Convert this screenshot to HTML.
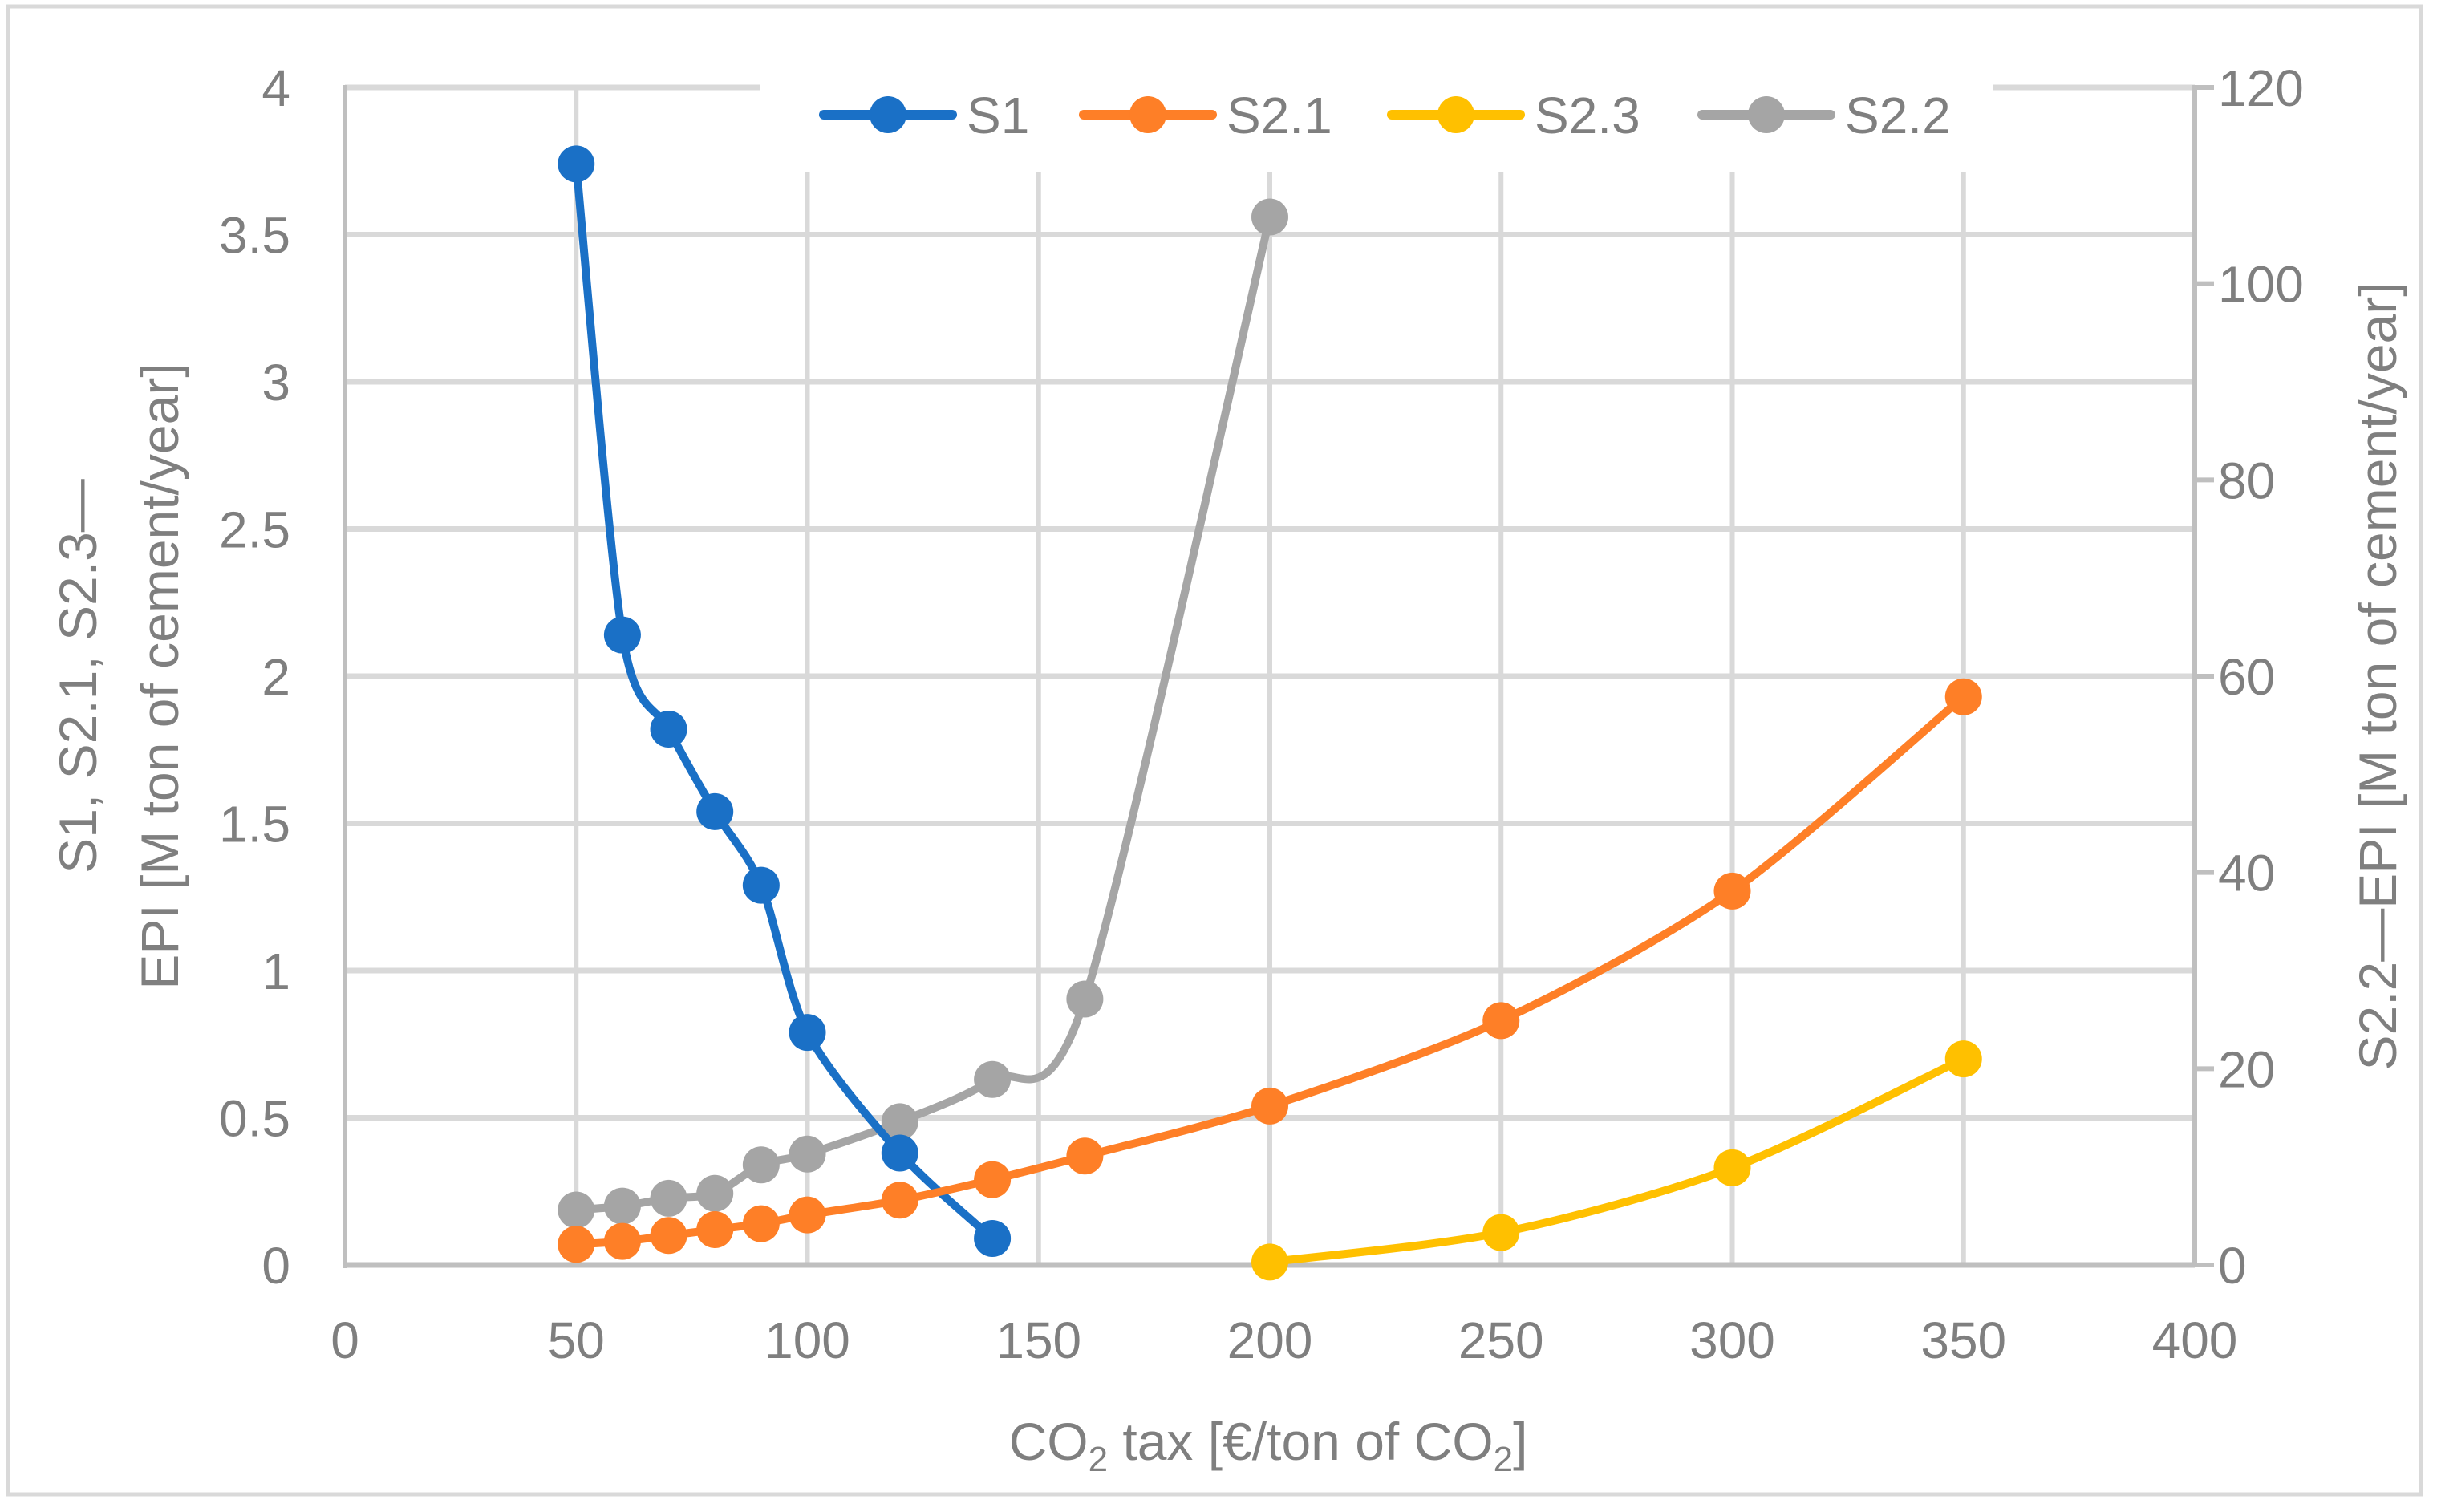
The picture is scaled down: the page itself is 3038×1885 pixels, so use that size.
<!DOCTYPE html>
<html><head><meta charset="utf-8"><style>
html,body{margin:0;padding:0;background:#fff;}
svg{display:block;font-family:"Liberation Sans",sans-serif;}
</style></head><body>
<svg id="chart" width="3038" height="1885" viewBox="0 0 3038 1885" xmlns="http://www.w3.org/2000/svg">
<rect x="10" y="8" width="3008" height="1855" fill="#fff" stroke="#d9d9d9" stroke-width="5"/>
<g id="grid"></g>
<rect x="947" y="95" width="1538" height="120" fill="#fff"/>
<g id="axes"></g>
<g id="series"></g>
<g id="legend"></g>
<text x="1581" y="1820" font-size="66" fill="#7f7f7f" text-anchor="middle">CO<tspan font-size="44" dy="14">2</tspan><tspan dy="-14"> tax [€/ton of CO</tspan><tspan font-size="44" dy="14">2</tspan><tspan dy="-14">]</tspan></text>
<text transform="translate(120,843) rotate(-90)" font-size="66" fill="#7f7f7f" text-anchor="middle">S1, S2.1, S2.3—</text>
<text transform="translate(222,843) rotate(-90)" font-size="66" fill="#7f7f7f" text-anchor="middle">EPI [M ton of cement/year]</text>
<text transform="translate(2987,843) rotate(-90)" font-size="66" fill="#7f7f7f" text-anchor="middle">S2.2—EPI [M ton of cement/year]</text>
</svg>
<script>
const xTicks=[0,50,100,150,200,250,300,350,400];
const yLeftTicks=[0,0.5,1,1.5,2,2.5,3,3.5,4];
const yLeftLabels=["0","0.5","1","1.5","2","2.5","3","3.5","4"];
const yRightTicks=[0,20,40,60,80,100,120];
const s1X=[50,60,70,80,90,100,120,140];
const s1Y=[3.74,2.14,1.82,1.54,1.29,0.79,0.38,0.09];
const s21X=[50,60,70,80,90,100,120,140,160,200,250,300,350];
const s21Y=[0.07,0.08,0.10,0.12,0.14,0.17,0.22,0.29,0.37,0.54,0.83,1.27,1.93];
const s23X=[200,250,300,350];
const s23Y=[0.01,0.11,0.33,0.70];
const s22X=[50,60,70,80,90,100,120,140,160,200];
const s22Y=[5.6,6.0,6.8,7.3,10.2,11.3,14.6,18.9,27.1,106.8];
const seriesNames=["S1","S2.1","S2.3","S2.2"];

const X0=430,X1=2736,Y0=1577,Y1=109;
const xs=v=>X0+(v-0)/(400-0)*(X1-X0);
const yl=v=>Y0-(v/4)*(Y0-Y1);
const yr=v=>Y0-(v/120)*(Y0-Y1);
const NS="http://www.w3.org/2000/svg";
function mk(tag,parent,attrs){const e=document.createElementNS(NS,tag);for(const k in attrs)e.setAttribute(k,attrs[k]);parent.appendChild(e);return e;}
const grid=document.getElementById('grid'),axes=document.getElementById('axes'),ser=document.getElementById('series'),leg=document.getElementById('legend');

yLeftTicks.forEach((t,i)=>{
  if(t===0)return;
  const l=mk('line',grid,{x1:X0,x2:X1,y1:yl(t),y2:yl(t),stroke:'#d9d9d9','stroke-width':7});
  
  
});
xTicks.forEach(t=>{
  if(t===0||t===400)return;
  const l=mk('line',grid,{x1:xs(t),x2:xs(t),y1:Y0,y2:Y1,stroke:'#d9d9d9','stroke-width':6});
  
  
});
let a=mk('line',axes,{x1:X0,x2:X0,y1:Y1-3,y2:Y0+4,stroke:'#bfbfbf','stroke-width':6});


a=mk('line',axes,{x1:X0-3,x2:X1,y1:Y0,y2:Y0,stroke:'#bfbfbf','stroke-width':7});


a=mk('line',axes,{x1:X1,x2:X1,y1:Y1-3,y2:Y0,stroke:'#bfbfbf','stroke-width':6});


yRightTicks.forEach(t=>{
  const tk=mk('line',axes,{x1:X1,x2:X1+24,y1:yr(t),y2:yr(t),stroke:'#bfbfbf','stroke-width':6});
  
  
  const tx=mk('text',axes,{x:2765,y:yr(t)+23,'font-size':64,fill:'#7f7f7f'});
  tx.textContent=String(t);
  
  
});
yLeftTicks.forEach((t,i)=>{
  const tx=mk('text',axes,{x:362,y:yl(t)+23,'font-size':64,fill:'#7f7f7f','text-anchor':'end'});
  tx.textContent=yLeftLabels[i];
  
  
});
xTicks.forEach(t=>{
  const tx=mk('text',axes,{x:xs(t),y:1693,'font-size':64,fill:'#7f7f7f','text-anchor':'middle'});
  tx.textContent=String(t);
  
  
});

function smoothPath(pts){
  let d='M'+pts[0][0]+','+pts[0][1];
  const k=7;
  for(let i=0;i<pts.length-1;i++){
    const p0=pts[i-1]||pts[i],p1=pts[i],p2=pts[i+1],p3=pts[i+2]||p2;
    const c1=[p1[0]+(p2[0]-p0[0])/k,p1[1]+(p2[1]-p0[1])/k];
    const c2=[p2[0]-(p3[0]-p1[0])/k,p2[1]-(p3[1]-p1[1])/k];
    d+=' C'+c1[0]+','+c1[1]+' '+c2[0]+','+c2[1]+' '+p2[0]+','+p2[1];
  }
  return d;
}
function drawSeries(name,xsArr,ysArr,yf,color){
  const g=mk('g',ser,{});
  
  
  const pts=xsArr.map((x,i)=>[xs(x),yf(ysArr[i])]);
  const p=mk('path',g,{d:smoothPath(pts),fill:'none',stroke:color,'stroke-width':10,'stroke-linejoin':'round'});
  
  
  pts.forEach(pt=>{
    const c=mk('circle',g,{cx:pt[0],cy:pt[1],r:23,fill:color});
    
    
  });
}
drawSeries('S2.2',s22X,s22Y,yr,'#a5a5a5');
drawSeries('S1',s1X,s1Y,yl,'#1a70c6');
drawSeries('S2.1',s21X,s21Y,yl,'#fe7f27');
drawSeries('S2.3',s23X,s23Y,yl,'#ffc000');

const legX=[1027,1351,1735,2122];
const legColors=['#1a70c6','#fe7f27','#ffc000','#a5a5a5'];
seriesNames.forEach((n,i)=>{
  const g=mk('g',leg,{});
  
  
  const x=legX[i];
  mk('line',g,{x1:x,x2:x+160,y1:143,y2:143,stroke:legColors[i],'stroke-width':12,'stroke-linecap':'round'});
  mk('circle',g,{cx:x+80,cy:143,r:23,fill:legColors[i]});
  const t=mk('text',g,{x:x+178,y:166,'font-size':64,fill:'#7f7f7f'});
  t.textContent=n;
});
</script>
</body></html>
